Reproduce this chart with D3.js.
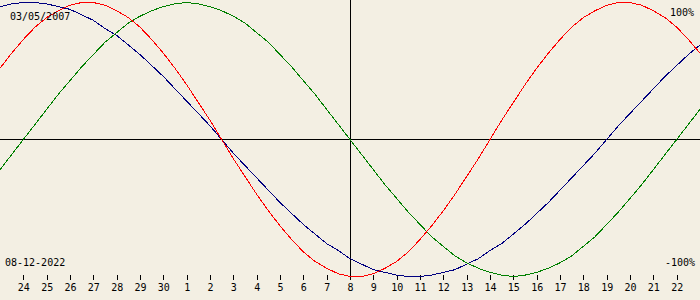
<!DOCTYPE html>
<html>
<head>
<meta charset="utf-8">
<script src="https://cdn.jsdelivr.net/npm/d3@7"></script>
<style>
  html, body { margin: 0; padding: 0; background: #f3efe3; }
  #chart { width: 700px; height: 300px; overflow: hidden; }
  text { font-family: "DejaVu Sans Mono", monospace; font-size: 10px; fill: #000; }
</style>
</head>
<body>
<div id="chart"></div>
<script>
// Biorhythm chart - birth 03/05/2007, centred on 08-12-2022
(function () {
  ///////////////////////////////////////////////////////////// ! Data
  const birthLabel = "03/05/2007";
  const dateLabel = "08-12-2022";

  // day numbers under the ticks (24 Nov .. 22 Dec)
  const dayLabels = [24, 25, 26, 27, 28, 29, 30, 1, 2, 3, 4, 5, 6, 7, 8,
    9, 10, 11, 12, 13, 14, 15, 16, 17, 18, 19, 20, 21, 22];

  // values in percent, one every half day from 23 Nov to 23 Dec
  const physical = [52, 63, 73, 82, 89, 94, 98, 100, 100, 98, 94, 89, 82, 73, 63, 52, 40, 27, 14, 0,
    -14, -27, -40, -52, -63, -73, -82, -89, -94, -98, -100, -100, -98, -94, -89, -82, -73, -63, -52, -40, -27, -14,
    0, 14, 27, 40, 52, 63, 73, 82, 89, 94, 98, 100, 100, 98, 94, 89, 82, 73, 63];

  const emotional = [-22, -11, 0, 11, 22, 33, 43, 53, 62, 71, 78, 85, 90, 94, 97, 99, 100,
    99, 97, 94, 90, 85, 78, 71, 62, 53, 43, 33, 22, 11, 0,
    -11, -22, -33, -43, -53, -62, -71, -78, -85, -90, -94, -97, -99, -100,
    -99, -97, -94, -90, -85, -78, -71, -62, -53, -43, -33, -22, -11, 0, 11, 22];

  const intellectual = [97, 99, 100, 100, 99, 97, 95, 91, 87, 81, 76, 69, 62, 54, 46, 37, 28, 19, 10, 0,
    -10, -19, -28, -37, -46, -54, -62, -69, -76, -81, -87, -91, -95, -97, -99, -100,
    -100, -99, -97, -95, -91, -87, -81, -76, -69, -62, -54, -46, -37, -28, -19, -10,
    0, 10, 19, 28, 37, 46, 54, 62, 69];

  const series = [
    { name: "intellectual", values: intellectual, color: "#000080" },
    { name: "emotional", values: emotional, color: "#008000" },
    { name: "physical", values: physical, color: "#ff0000" },
  ];

  ///////////////////////////////////////////////////////////// ! Setup
  const width = 700;
  const height = 300;

  const svg = d3
    .select("#chart")
    .append("svg")
    .attr("width", width)
    .attr("height", height)
    .style("display", "block");

  // half-day steps across the window, 30 days wide
  const xScale = d3.scaleLinear().domain([0, 60]).range([0, width]);
  const yScale = d3.scaleLinear().domain([-100, 100]).range([276.5, 2.5]);

  ///////////////////////////////////////////////////////////// ! Cross lines
  svg
    .append("line")
    .attr("x1", 0)
    .attr("x2", width)
    .attr("y1", yScale(0))
    .attr("y2", yScale(0))
    .attr("stroke", "#000")
    .attr("shape-rendering", "crispEdges");

  svg
    .append("line")
    .attr("x1", xScale(30))
    .attr("x2", xScale(30))
    .attr("y1", 0)
    .attr("y2", 280)
    .attr("stroke", "#000")
    .attr("shape-rendering", "crispEdges");

  ///////////////////////////////////////////////////////////// ! Day axis
  const tickValues = dayLabels.map((d, i) => (i + 1) * 2);
  const axis = d3
    .axisBottom(xScale)
    .tickValues(tickValues)
    .tickSize(5)
    .tickPadding(4)
    .tickFormat((d, i) => dayLabels[i]);

  const axisG = svg
    .append("g")
    .attr("transform", "translate(0,275)")
    .call(axis);
  axisG.select(".domain").remove();
  axisG.selectAll("line").attr("shape-rendering", "crispEdges");
  axisG
    .selectAll("text")
    .attr("font-family", "DejaVu Sans Mono, monospace")
    .attr("font-size", 10)
    .attr("fill", "#000");

  ///////////////////////////////////////////////////////////// ! Curves
  const line = d3
    .line()
    .x((d, i) => xScale(i))
    .y((d) => yScale(d));

  svg
    .selectAll("path.curve")
    .data(series)
    .enter()
    .append("path")
    .attr("class", "curve")
    .attr("d", (d) => line(d.values))
    .attr("fill", "none")
    .attr("stroke", (d) => d.color)
    .attr("stroke-width", 1)
    .attr("shape-rendering", "crispEdges");

  ///////////////////////////////////////////////////////////// ! Labels
  svg.append("text").attr("x", 10).attr("y", 20).text(birthLabel);
  svg.append("text").attr("x", 5).attr("y", 266).text(dateLabel);
  svg
    .append("text")
    .attr("x", 694)
    .attr("y", 16)
    .style("text-anchor", "end")
    .text("100%");
  svg
    .append("text")
    .attr("x", 695)
    .attr("y", 266)
    .style("text-anchor", "end")
    .text("-100%");
})();
</script>
</body>
</html>
